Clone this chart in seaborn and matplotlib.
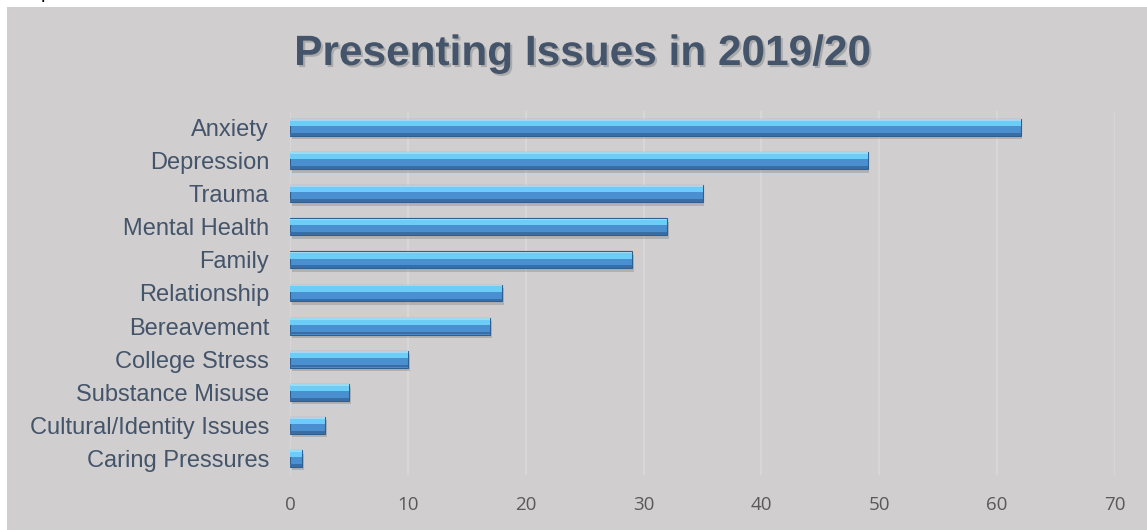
import matplotlib
matplotlib.use("Agg")
import matplotlib.pyplot as plt
import matplotlib.patheffects as pe
from matplotlib.patches import Rectangle
import seaborn as sns
import pandas as pd

categories = ["Anxiety", "Depression", "Trauma", "Mental Health", "Family",
              "Relationship", "Bereavement", "College Stress", "Substance Misuse",
              "Cultural/Identity Issues", "Caring Pressures"]
values = [62, 49, 35, 32, 29, 18, 17, 10, 5, 3, 1]
xticks = [0, 10, 20, 30, 40, 50, 60, 70]
title = "Presenting Issues in 2019/20"

df = pd.DataFrame({"issue": categories, "count": values})

sns.set_theme(style="white")
plt.rcParams["font.family"] = ["Liberation Sans", "DejaVu Sans"]

BG = "#d0cece"
fig = plt.figure(figsize=(11.47, 5.30), dpi=100, facecolor="white")
fig.patches.append(Rectangle((7 / 1147, 0), 1 - 7 / 1147, 1 - 7 / 530,
                             transform=fig.transFigure, facecolor=BG,
                             edgecolor="none", zorder=-10))
fig.text(41 / 1147, 1 + 2 / 530, "p", fontsize=14, color="black",
         va="baseline", ha="left")

ax = fig.add_axes([290 / 1147, 1 - 475 / 530, (1115 - 290) / 1147, (475 - 111) / 530])
ax.set_facecolor(BG)

H = 0.51
pos = list(range(len(categories)))
# shadow
ax.barh(categories, values, height=H, left=0.15, color="#6f6f6f", alpha=0.30,
        edgecolor="none", zorder=1,
        transform=ax.transData + matplotlib.transforms.ScaledTranslation(0, -3.5 / 100, fig.dpi_scale_trans))
# main bar
sns.barplot(data=df, x="count", y="issue", order=categories, orient="h",
            color="#4a8fd0", saturation=1, width=H, edgecolor="#2f5f8f",
            linewidth=0.8, ax=ax, zorder=2)
# bevel bands
ax.barh([i - H / 2 + H * 0.25 for i in pos], values,
        height=H * 0.34, color="#6ccdf6", edgecolor="none", zorder=3)
ax.barh([i - H / 2 + H * 0.06 for i in pos], values,
        height=H * 0.10, color="#9fdaf5", edgecolor="none", zorder=3)
ax.barh([i + H / 2 - H * 0.09 for i in pos], values,
        height=H * 0.16, color="#3a6da3", edgecolor="none", zorder=3)

ax.set_xlim(0, 70)
ax.set_ylim(len(categories) - 0.5, -0.5)
ax.set_xticks(xticks)
ax.set_xticklabels([str(t) for t in xticks], fontsize=13.5, color="#595959",
                   family=["Open Sans", "DejaVu Sans"])
ax.tick_params(axis="x", length=0, pad=15)
ax.tick_params(axis="y", length=0, pad=15, labelsize=17, labelcolor="#44546a")
ax.set_xlabel("")
ax.set_ylabel("")
ax.grid(axis="x", color="#d9d8d8", linewidth=1.3, zorder=0)
ax.set_axisbelow(True)
for s in ax.spines.values():
    s.set_visible(False)

fig.text(583 / 1147, 1 - 54 / 530, title, fontsize=30.5, fontweight="bold",
         color="#44546a", ha="center", va="center",
         path_effects=[pe.SimplePatchShadow(offset=(1.5, -1.5), shadow_rgbFace="#888888", alpha=0.5),
                       pe.Normal()])

fig.savefig("out.png", dpi=100, facecolor="white")
